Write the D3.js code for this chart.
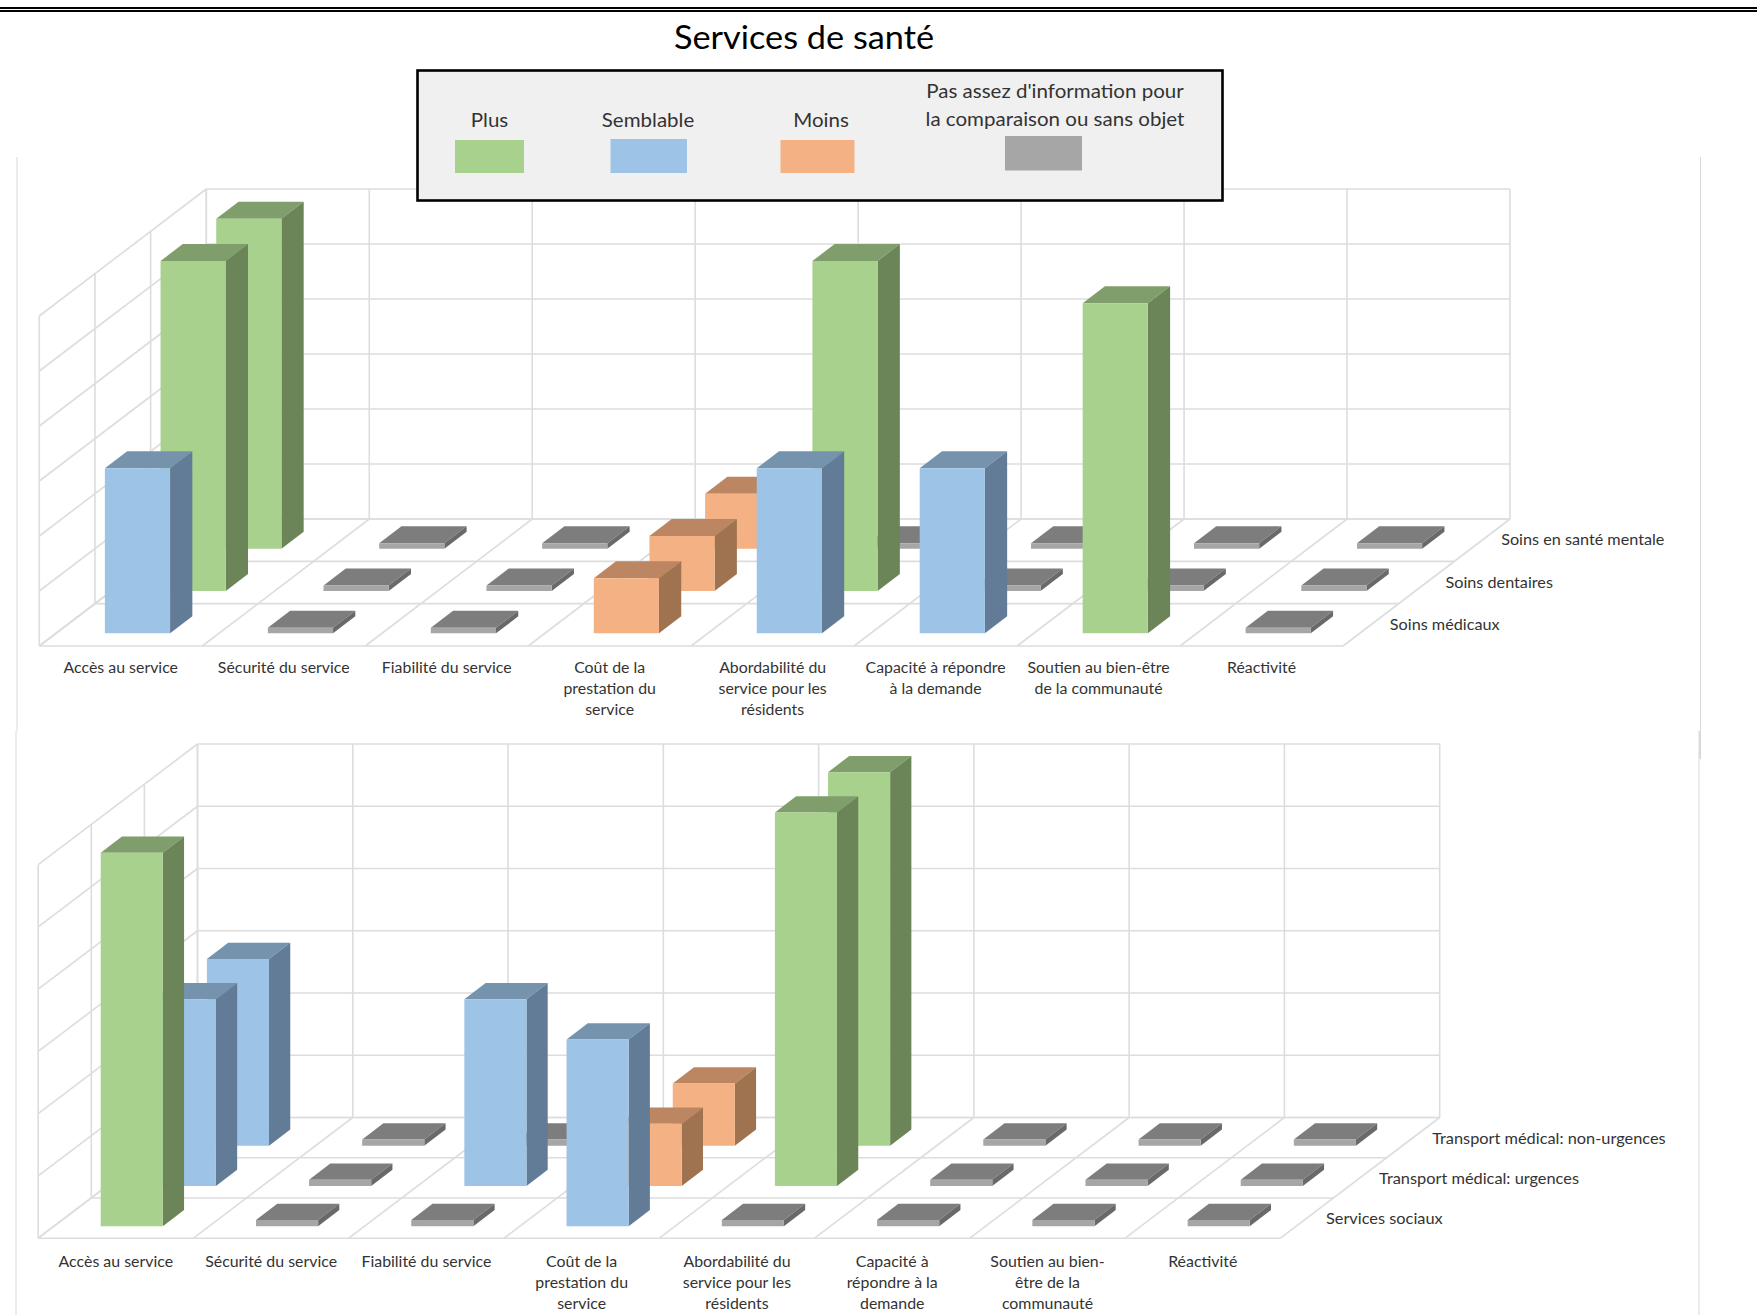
<!DOCTYPE html>
<html><head><meta charset="utf-8"><script src="https://cdn.jsdelivr.net/npm/d3@7/dist/d3.min.js"></script>
<style>html,body{margin:0;padding:0;background:#fff}svg{display:block}text{font-family:Lato,"Open Sans",sans-serif}</style></head>
<body><svg id="c" width="1757" height="1315"></svg>
<script>
const titleText = "Services de santé";
const statusNames = ["Plus","Semblable","Moins","Sans objet"];
const statusValues = [6,3,1,0.1];
const legendLabels = [["Plus"],["Semblable"],["Moins"],["Pas assez d'information pour","la comparaison ou sans objet"]];
const yTicks = [0,1,2,3,4,5,6];

const categoriesTop = [["Accès au service"],["Sécurité du service"],["Fiabilité du service"],["Coût de la","prestation du","service"],["Abordabilité du","service pour les","résidents"],["Capacité à répondre","à la demande"],["Soutien au bien-être","de la communauté"],["Réactivité"]];
const categoriesBottom = [["Accès au service"],["Sécurité du service"],["Fiabilité du service"],["Coût de la","prestation du","service"],["Abordabilité du","service pour les","résidents"],["Capacité à","répondre à la","demande"],["Soutien au bien-","être de la","communauté"],["Réactivité"]];
const rowsTop = ["Soins médicaux","Soins dentaires","Soins en santé mentale"];
const rowsBottom = ["Services sociaux","Transport médical: urgences","Transport médical: non-urgences"];

const soinsMedicaux = [3,0.1,0.1,1,3,3,6,0.1];
const soinsDentaires = [6,0.1,0.1,1,6,0.1,0.1,0.1];
const soinsMentale = [6,0.1,0.1,1,0.1,0.1,0.1,0.1];
const servicesSociaux = [6,0.1,0.1,3,0.1,0.1,0.1,0.1];
const transportUrgences = [3,0.1,3,1,6,0.1,0.1,0.1];
const transportNonUrgences = [3,0.1,0.1,1,6,0.1,0.1,0.1];

const faceFront = d3.scaleOrdinal(statusValues,["#A9D18E","#9DC3E6","#F4B183","#A6A6A6"]);
const faceTop = d3.scaleOrdinal(statusValues,["#7F9E6B","#7693AE","#BC8662","#7D7D7D"]);
const faceSide = d3.scaleOrdinal(statusValues,["#6B8559","#627B96","#A07350","#696969"]);

const svg = d3.select("#c");
const grid = "#DDDDDD", ink = "#333333";

function chart(o){
  const g = svg.append("g");
  const n = o.cats.length;
  const catIds = d3.range(n);
  const xs = d3.scaleBand().domain(catIds).range([o.x0,o.x1]).paddingInner(0.6).paddingOuter(0.3);
  const xEdge = d3.scaleLinear().domain([0,n]).range([o.x0,o.x1]);
  const rowIds = d3.range(o.series.length);
  const ds = d3.scaleBand().domain(rowIds).range([0,1]).paddingInner(0.6).paddingOuter(0.3);
  const dEdge = d3.scaleLinear().domain([0,rowIds.length]).range([0,1]);
  const dx = d3.scaleLinear().domain([0,1]).range([0,o.depthX]);
  const dy = d3.scaleLinear().domain([0,1]).range([0,-o.depthY]);
  const y = d3.scaleLinear().domain([0,6]).range([o.y0,o.y0-o.h]);
  const px = (xv,d)=>xv+dx(d), py = (v,d)=>y(v)+dy(d);
  const line=(a,b,c,d)=>g.append("line").attr("x1",a).attr("y1",b).attr("x2",c).attr("y2",d).attr("stroke",grid).attr("stroke-width",1.6);
  yTicks.forEach(t=>{
    line(px(o.x0,1),py(t,1),px(o.x1,1),py(t,1));
    line(px(o.x0,0),py(t,0),px(o.x0,1),py(t,1));
  });
  d3.range(n+1).forEach(i=>line(px(xEdge(i),1),py(0,1),px(xEdge(i),1),py(6,1)));
  d3.range(n+1).forEach(i=>line(px(xEdge(i),0),py(0,0),px(xEdge(i),1),py(0,1)));
  d3.range(rowIds.length+1).forEach(r=>{
    const d=dEdge(r);
    line(px(o.x0,d),py(0,d),px(o.x1,d),py(0,d));
    line(px(o.x0,d),py(0,d),px(o.x0,d),py(6,d));
  });
  const bw = xs.bandwidth(), bd = ds.bandwidth();
  rowIds.slice().reverse().forEach(r=>{
    const d0 = ds(r), d1 = d0+bd;
    o.series[r].forEach((v,i)=>{
      const x = xs(i);
      const poly=(pts,fill)=>g.append("polygon").attr("points",pts.map(p=>p.join(",")).join(" ")).attr("fill",fill);
      poly([[px(x,d0),py(v,d0)],[px(x,d1),py(v,d1)],[px(x+bw,d1),py(v,d1)],[px(x+bw,d0),py(v,d0)]],faceTop(v));
      poly([[px(x+bw,d0),py(0,d0)],[px(x+bw,d1),py(0,d1)],[px(x+bw,d1),py(v,d1)],[px(x+bw,d0),py(v,d0)]],faceSide(v));
      poly([[px(x,d0),py(0,d0)],[px(x+bw,d0),py(0,d0)],[px(x+bw,d0),py(v,d0)],[px(x,d0),py(v,d0)]],faceFront(v));
    });
  });
  o.cats.forEach((lines,i)=>{
    lines.forEach((s,k)=>{
      const cx = xEdge(i+0.5), cy = o.labelY+k*o.lineH;
      g.append("text").attr("transform",`translate(${cx},${cy}) scale(${o.sx},${o.sy})`)
       .attr("text-anchor","middle").attr("dominant-baseline","central").attr("font-size",15).attr("fill",ink).text(s);
    });
  });
  o.rows.forEach((s,r)=>{
    const d=dEdge(r+0.5);
    g.append("text").attr("transform",`translate(${px(o.x1,d)+19},${py(0,d)-0.5}) scale(${o.rowSx},${o.sy})`)
     .attr("dominant-baseline","central").attr("font-size",15).attr("fill",ink).text(s);
  });
}

svg.append("rect").attr("x",0).attr("y",7).attr("width",1757).attr("height",2).attr("fill","#000");
svg.append("rect").attr("x",0).attr("y",10).attr("width",1757).attr("height",2).attr("fill","#000");
[[17,157,731,1],[16,731,1315,1],[1700.5,157,759,1],[1699.5,731,759,2],[1699,759,1315,1]].forEach(l=>svg.append("line").attr("x1",l[0]).attr("x2",l[0]).attr("y1",l[1]).attr("y2",l[2]).attr("stroke","#DADADA").attr("stroke-width",l[3]));

chart({cats:categoriesTop,rows:rowsTop,series:[soinsMedicaux,soinsDentaires,soinsMentale],x0:39.3,x1:1343,y0:646,h:330,depthX:167,depthY:127,labelY:667,lineH:21,sx:1.06,rowSx:1.08,sy:1});
chart({cats:categoriesBottom,rows:rowsBottom,series:[servicesSociaux,transportUrgences,transportNonUrgences],x0:38.2,x1:1280.4,y0:1238.2,h:373.5,depthX:159.3,depthY:120.7,labelY:1260,lineH:21.4,sx:1.06,rowSx:1.09,sy:1.08});

svg.append("text").attr("transform","translate(804,36) scale(1.04,1)").attr("text-anchor","middle").attr("dominant-baseline","central").attr("font-size",33).attr("fill","#000").text(titleText);

const legend = svg.append("g");
legend.append("rect").attr("x",417.5).attr("y",70.5).attr("width",805).attr("height",130).attr("fill","#F0F0F0").attr("stroke","#000").attr("stroke-width",2.6);
const legendX = d3.scaleOrdinal(statusNames,[489.5,648,821,1055]);
const swatchX = d3.scaleOrdinal(statusNames,[[455,524,140,173],[610.5,687,139,173],[780.5,854.5,140,173],[1005,1082,136,170.5]]);
statusNames.forEach((s,i)=>{
  const b=swatchX(s);
  legend.append("rect").attr("x",b[0]).attr("y",b[2]).attr("width",b[1]-b[0]).attr("height",b[3]-b[2]).attr("fill",faceFront(statusValues[i]));
  const lines=legendLabels[i];
  lines.forEach((t,k)=>legend.append("text").attr("transform",`translate(${legendX(s)},${lines.length===1?119:90.6+k*28}) scale(1.08,1.03)`)
    .attr("text-anchor","middle").attr("dominant-baseline","central").attr("font-size",19).attr("fill",ink).text(t));
});
</script></body></html>
